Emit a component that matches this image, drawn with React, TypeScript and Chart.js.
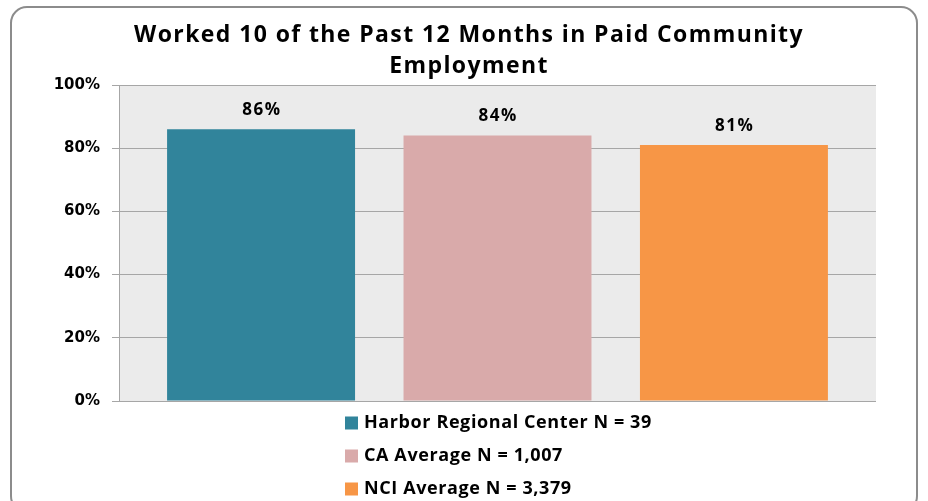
import React, { useEffect, useRef } from "react";
import { Chart, registerables } from "chart.js";

Chart.register(...registerables);

const titleLines = ["Worked 10 of the Past 12 Months in Paid Community", "Employment"];
const categories = [""];
const seriesLabels = ["Harbor Regional Center N = 39", "CA Average N = 1,007", "NCI Average N = 3,379"];
const seriesValues = [86, 84, 81];
const seriesColors = ["#31849b", "#d9aaaa", "#f79646"];
const yTicks = [0, 20, 40, 60, 80, 100];

const bgPlugin = {
  id: "bgPlugin",
  beforeDraw(chart: any) {
    const { ctx, chartArea, width, height } = chart;
    ctx.save();
    ctx.fillStyle = "#ffffff";
    ctx.fillRect(0, 0, width, height);
    const x = 11, y = 7, w = 906, h = 505, r = 16;
    ctx.beginPath();
    ctx.moveTo(x + r, y);
    ctx.lineTo(x + w - r, y);
    ctx.arcTo(x + w, y, x + w, y + r, r);
    ctx.lineTo(x + w, y + h - r);
    ctx.arcTo(x + w, y + h, x + w - r, y + h, r);
    ctx.lineTo(x + r, y + h);
    ctx.arcTo(x, y + h, x, y + h - r, r);
    ctx.lineTo(x, y + r);
    ctx.arcTo(x, y, x + r, y, r);
    ctx.closePath();
    ctx.lineWidth = 2;
    ctx.strokeStyle = "#8c8c8c";
    ctx.stroke();
    ctx.fillStyle = "#ebebeb";
    ctx.fillRect(chartArea.left, chartArea.top, chartArea.right - chartArea.left, chartArea.bottom - chartArea.top);
    ctx.restore();
  },
};

const titlePlugin = {
  id: "titlePlugin",
  afterDraw(chart: any) {
    const { ctx } = chart;
    ctx.save();
    ctx.font = "bold 23px 'Open Sans'";
    (ctx as any).letterSpacing = "1.4px";
    ctx.fillStyle = "#000000";
    ctx.textAlign = "center";
    ctx.textBaseline = "middle";
    titleLines.forEach((line, i) => {
      ctx.fillText(line, 469, 35 + i * 31.5);
    });
    ctx.restore();
  },
};

const labelPlugin = {
  id: "labelPlugin",
  afterDatasetsDraw(chart: any) {
    const { ctx } = chart;
    ctx.save();
    ctx.font = "bold 17px 'Open Sans'";
    (ctx as any).letterSpacing = "1.5px";
    ctx.fillStyle = "#000000";
    ctx.textAlign = "center";
    ctx.textBaseline = "middle";
    chart.data.datasets.forEach((ds: any, i: number) => {
      const meta = chart.getDatasetMeta(i);
      meta.data.forEach((el: any, j: number) => {
        ctx.fillText(ds.data[j] + "%", el.x + 0.75, el.y - 19);
      });
    });
    ctx.restore();
  },
};

const legendPlugin = {
  id: "legendPlugin",
  afterDraw(chart: any) {
    const { ctx } = chart;
    ctx.save();
    ctx.font = "bold 18px 'Open Sans'";
    (ctx as any).letterSpacing = "0.6px";
    ctx.textAlign = "left";
    ctx.textBaseline = "middle";
    chart.data.datasets.forEach((ds: any, i: number) => {
      const cy = 423 + i * 33;
      ctx.fillStyle = ds.backgroundColor;
      ctx.fillRect(345, cy - 6.5, 13, 13);
      ctx.fillStyle = "#000000";
      ctx.fillText(ds.label, 364, cy);
    });
    ctx.restore();
  },
};

export default function App() {
  const ref = useRef<HTMLCanvasElement>(null);
  useEffect(() => {
    document.body.style.margin = "0";
    const chart = new Chart(ref.current!, {
      type: "bar",
      data: {
        labels: categories,
        datasets: seriesLabels.map((label, i) => ({
          label,
          data: [seriesValues[i]],
          backgroundColor: seriesColors[i],
          borderWidth: 0,
        })),
      },
      options: {
        animation: false,
        responsive: false,
        devicePixelRatio: 1,
        layout: { padding: { left: 0, right: 52, top: 85, bottom: 100 } },
        datasets: { bar: { categoryPercentage: 0.937, barPercentage: 0.795 } },
        plugins: {
          legend: { display: false },
          tooltip: { enabled: false },
          title: { display: false },
        },
        scales: {
          x: { display: false },
          y: {
            min: 0,
            max: 100,
            afterFit(scale: any) {
              scale.width = 119;
            },
            afterBuildTicks(scale: any) {
              scale.ticks = yTicks.map((v) => ({ value: v }));
            },
            ticks: {
              callback: (v: any) => v + "%",
              color: "#000000",
              font: { family: "'DejaVu Sans'", size: 15, weight: "bold" },
              padding: 12,
            },
            grid: { color: "#a6a6a6", tickLength: 7, lineWidth: 1 },
            border: { display: true, color: "#a6a6a6", width: 1 },
          },
        },
      },
      plugins: [bgPlugin, titlePlugin, labelPlugin, legendPlugin],
    });
    return () => chart.destroy();
  }, []);
  return <canvas ref={ref} width={928} height={501} style={{ display: "block" }} />;
}
